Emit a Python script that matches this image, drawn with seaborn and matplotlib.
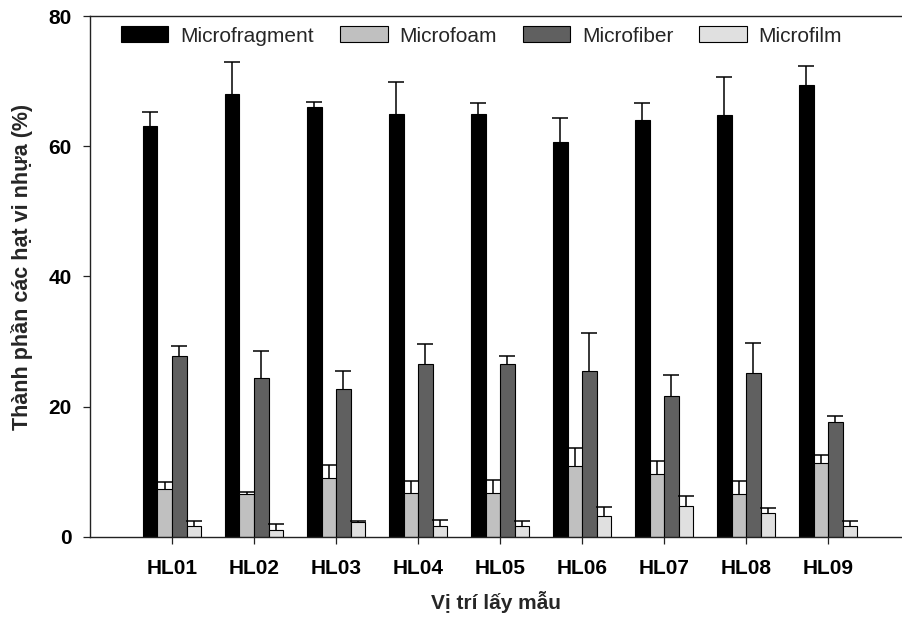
import numpy as np
import pandas as pd
import matplotlib
matplotlib.use("Agg")
import matplotlib.pyplot as plt
import seaborn as sns

# -----------------------------
# Data
# -----------------------------
sites = ["HL01", "HL02", "HL03", "HL04", "HL05", "HL06", "HL07", "HL08", "HL09"]
types = ["Microfragment", "Microfoam", "Microfiber", "Microfilm"]

fragment = [63.1, 68.1, 66.1, 64.9, 64.9, 60.6, 64.0, 64.8, 69.4]
foam = [7.4, 6.6, 9.0, 6.8, 6.8, 10.8, 9.6, 6.5, 11.4]
fiber = [27.8, 24.4, 22.7, 26.5, 26.5, 25.4, 21.6, 25.1, 17.6]
film = [1.6, 1.0, 2.3, 1.6, 1.6, 3.2, 4.7, 3.6, 1.6]

fragment_err = [2.2, 4.8, 0.7, 5.0, 1.8, 3.7, 2.7, 5.9, 2.9]
foam_err = [1.0, 0.3, 2.0, 1.7, 2.0, 2.9, 2.0, 2.1, 1.1]
fiber_err = [1.5, 4.1, 2.7, 3.1, 1.2, 5.9, 3.3, 4.7, 0.9]
film_err = [0.9, 1.0, 0.1, 1.0, 0.8, 1.3, 1.5, 0.8, 0.9]

colors = ["#000000", "#c0c0c0", "#606060", "#e0e0e0"]

values = [fragment, foam, fiber, film]
errors = [fragment_err, foam_err, fiber_err, film_err]

df = pd.DataFrame({
    "site": sites * 4,
    "type": np.repeat(types, len(sites)),
    "value": np.concatenate(values),
})

# -----------------------------
# Plot
# -----------------------------
sns.set_style("ticks")
plt.rcParams["font.family"] = ["Liberation Sans", "DejaVu Sans"]

fig = plt.figure(figsize=(9.02, 6.17), dpi=100)
ax = fig.add_axes([0.0998, 0.130, 0.9002, 0.844])

sns.barplot(data=df, x="site", y="value", hue="type", order=sites,
            hue_order=types, palette=colors, width=0.71, errorbar=None,
            edgecolor="black", linewidth=0.8, ax=ax)

# upward-only error bars at the bar centres (hide the lower cap)
for cont, err in zip(ax.containers, errors):
    xs = [p.get_x() + p.get_width() / 2 for p in cont.patches]
    hs = [p.get_height() for p in cont.patches]
    eb = ax.errorbar(xs, hs, yerr=[np.zeros(len(err)), err], fmt="none",
                     ecolor="black", elinewidth=1.1, capsize=5.5, capthick=1.1)
    eb[1][0].set_visible(False)

ax.set_ylim(0, 80)
ax.set_yticks([0, 20, 40, 60, 80])
ax.set_xlim(-1.0, 8.9)

ax.spines["right"].set_visible(False)
for s in ["left", "top", "bottom"]:
    ax.spines[s].set_linewidth(1.0)
    ax.spines[s].set_color("#222222")

ax.tick_params(axis="both", direction="out", length=5, width=0.9,
               labelsize=15, colors="#222222", labelcolor="black")
ax.tick_params(axis="x", pad=11)
ax.tick_params(axis="y", pad=8)
for lab in ax.get_xticklabels() + ax.get_yticklabels():
    lab.set_fontweight("bold")

ax.set_xlabel("Vị trí lấy mẫu", fontsize=15, fontweight="bold", labelpad=9)
ax.set_ylabel("Thành phần các hạt vi nhựa (%)", fontsize=15.5,
              fontweight="bold")
ax.yaxis.set_label_coords(-0.070, 0.518)

ax.legend(loc="upper center", bbox_to_anchor=(0.482, 1.016), ncol=4,
          frameon=False, fontsize=15, handlelength=2.3, handleheight=0.8,
          columnspacing=1.25, handletextpad=0.55)

plt.savefig("out.png", dpi=100)
